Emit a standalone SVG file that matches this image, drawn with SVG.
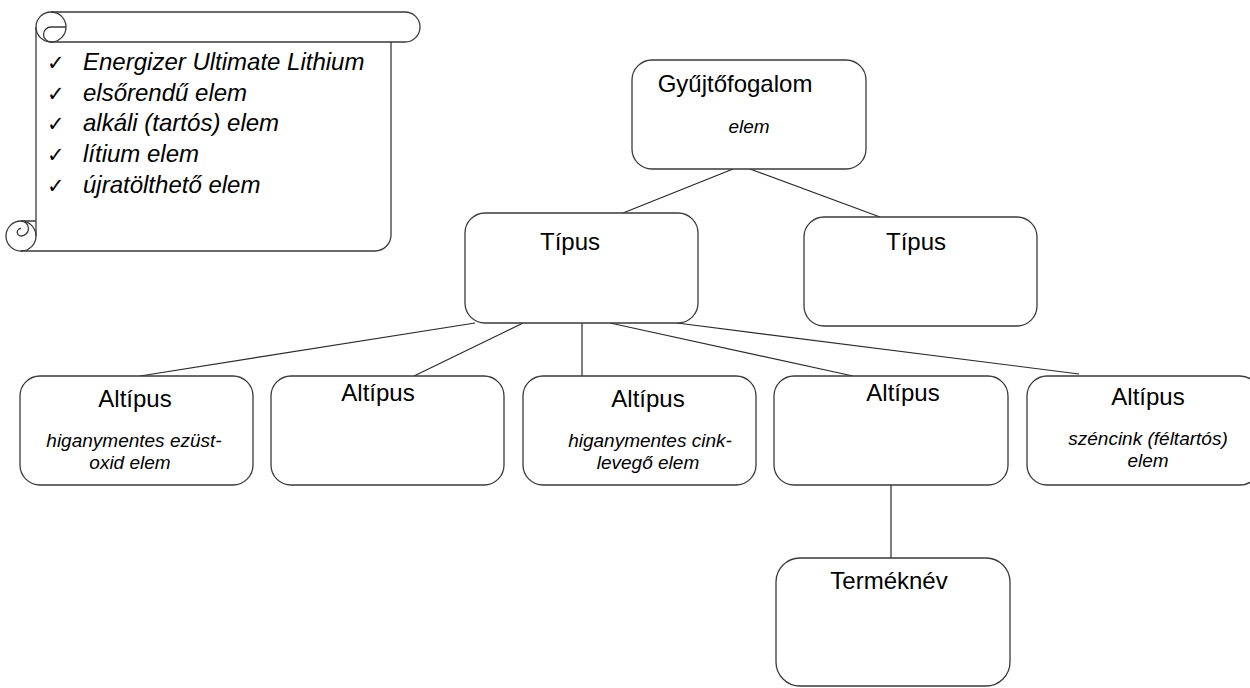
<svg xmlns="http://www.w3.org/2000/svg" width="1250" height="688" viewBox="0 0 1250 688">
<style>
.box{fill:#fff;stroke:#3a3a3a;stroke-width:1.3}
.scroll{fill:none;stroke:#3a3a3a;stroke-width:1.3}
.conn line{stroke:#2a2a2a;stroke-width:1.2}
.t{font-family:"Liberation Sans",Arial,sans-serif;font-size:24px;fill:#000;text-anchor:middle}
.i{font-family:"Liberation Sans",Arial,sans-serif;font-size:19px;font-style:italic;fill:#000;text-anchor:middle}
.s{font-family:"Liberation Sans",Arial,sans-serif;font-size:24px;font-style:italic;fill:#000}
.c{font-family:"DejaVu Sans",sans-serif;font-size:21px;fill:#000}
</style>
<rect width="1250" height="688" fill="#fff"/>
<g id="scroll">
<path d="M36,27 L36,236 L21,251 L375,251 A16,16 0 0 0 391,235 L391,42 L405,42 A15,15 0 0 0 405,12 L51,12 Z" fill="#fff" stroke="none"/>
<path class="scroll" d="M51,12 L405,12 A15,15 0 0 1 405,42 L51,42"/>
<circle class="scroll" cx="51" cy="27" r="15"/>
<path class="scroll" d="M66,27 L51,27 A7.5,7.5 0 0 0 51,42"/>
<path class="scroll" d="M36,27 L36,236"/>
<path class="scroll" d="M391,42 L391,235 A16,16 0 0 1 375,251 L21,251"/>
<circle class="scroll" cx="21" cy="236" r="15"/>
<path class="scroll" d="M21,221 L36,221 M21,221 A7.5,7.5 0 0 1 21,236 A3.75,3.75 0 0 1 21,228.5"/>
<text class="c" x="47" y="70">✓</text>
<text class="c" x="47" y="101">✓</text>
<text class="c" x="47" y="131">✓</text>
<text class="c" x="47" y="162">✓</text>
<text class="c" x="47" y="193">✓</text>
<text class="s" x="83" y="70">Energizer Ultimate Lithium</text>
<text class="s" x="83" y="101">elsőrendű elem</text>
<text class="s" x="83" y="131">alkáli (tartós) elem</text>
<text class="s" x="83" y="162">lítium elem</text>
<text class="s" x="83" y="193">újratölthető elem</text>
</g>
<g id="connectors" class="conn">
<line x1="733" y1="169" x2="623" y2="213"/>
<line x1="750" y1="169" x2="880" y2="217"/>
<line x1="475" y1="323" x2="140" y2="376"/>
<line x1="523" y1="323" x2="414" y2="376"/>
<line x1="582" y1="323" x2="582" y2="376"/>
<line x1="610" y1="323" x2="853" y2="376"/>
<line x1="677" y1="323" x2="1079" y2="374"/>
<line x1="891" y1="485" x2="891" y2="558"/>
</g>
<g id="gyujtofogalom">
<rect class="box" x="632" y="60" width="234" height="109" rx="20"/>
<text class="t" x="735" y="92">Gyűjtőfogalom</text>
<text class="i" x="749" y="133">elem</text>
</g>
<g id="tipus1">
<rect class="box" x="465" y="213" width="233" height="110" rx="20"/>
<text class="t" x="570" y="250">Típus</text>
</g>
<g id="tipus2">
<rect class="box" x="804" y="217" width="233" height="109" rx="20"/>
<text class="t" x="916" y="250">Típus</text>
</g>
<g id="altipus1">
<rect class="box" x="20" y="376" width="233" height="109" rx="20"/>
<text class="t" x="135" y="407">Altípus</text>
<text class="i" x="134" y="447">higanymentes ezüst-</text>
<text class="i" x="130" y="469">oxid elem</text>
</g>
<g id="altipus2">
<rect class="box" x="271" y="376" width="233" height="109" rx="20"/>
<text class="t" x="378" y="401">Altípus</text>
</g>
<g id="altipus3">
<rect class="box" x="523" y="376" width="233" height="109" rx="20"/>
<text class="t" x="648" y="407">Altípus</text>
<text class="i" x="650" y="447">higanymentes cink-</text>
<text class="i" x="648" y="469">levegő elem</text>
</g>
<g id="altipus4">
<rect class="box" x="774" y="376" width="234" height="109" rx="20"/>
<text class="t" x="903" y="401">Altípus</text>
</g>
<g id="altipus5">
<rect class="box" x="1027" y="376" width="233" height="109" rx="20"/>
<text class="t" x="1148" y="405">Altípus</text>
<text class="i" x="1148" y="445">széncink (féltartós)</text>
<text class="i" x="1148" y="467">elem</text>
</g>
<g id="termeknev">
<rect class="box" x="776" y="558" width="234" height="128" rx="24"/>
<text class="t" x="889" y="589">Terméknév</text>
</g>
</svg>
